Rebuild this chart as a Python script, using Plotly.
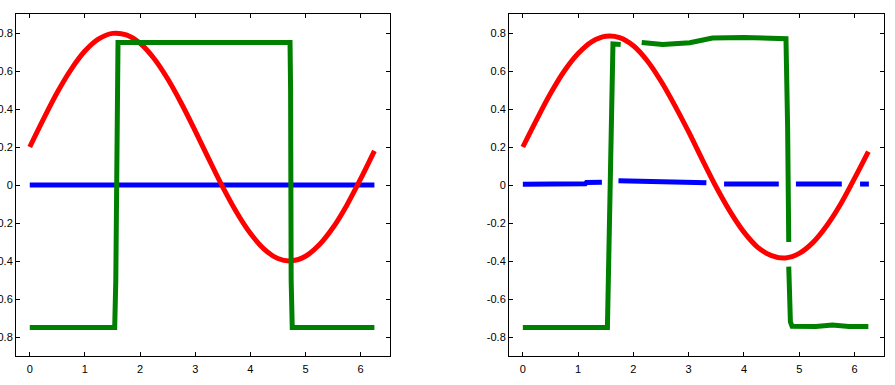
import plotly.graph_objects as go
from plotly.subplots import make_subplots

# ---- data ----
red_x = [0, 0.25, 0.5, 0.75, 1.0, 1.25, 1.5, 1.75, 2.0, 2.25, 2.5, 2.75, 3.0,
         3.25, 3.5, 3.75, 4.0, 4.25, 4.5, 4.75, 5.0, 5.25, 5.5, 5.75, 6.0, 6.25]
red_left = [0.20, 0.348, 0.488, 0.609, 0.705, 0.769, 0.798, 0.790, 0.746, 0.667,
            0.559, 0.429, 0.285, 0.135, -0.011, -0.143, -0.254, -0.337, -0.387,
            -0.399, -0.375, -0.315, -0.224, -0.106, 0.032, 0.180]
red_right = [0.20, 0.344, 0.481, 0.600, 0.692, 0.755, 0.783, 0.776, 0.733, 0.654,
             0.546, 0.418, 0.279, 0.131, -0.012, -0.140, -0.248, -0.328, -0.372,
             -0.384, -0.360, -0.302, -0.213, -0.100, 0.035, 0.176]

blue_left_x = [0, 6.25]
blue_left_y = [0, 0]

green_left_x = [0, 1.54, 1.56, 1.58, 1.60, 4.72, 4.73, 4.74, 4.76, 6.25]
green_left_y = [-0.75, -0.75, -0.5, 0.5, 0.75, 0.75, 0.5, -0.5, -0.75, -0.75]

blue_right_x = [0, 1.13, 1.15, 1.43, None, 1.73, 2.5, 3.19, 3.32, None,
                3.64, 4.63, None, 4.94, 5.77, None, 6.10, 6.26]
blue_right_y = [0.004, 0.006, 0.013, 0.015, None, 0.022, 0.020, 0.018, 0.012, None,
                0.005, 0.005, None, 0.005, 0.005, None, 0.005, 0.005]

green_right_x = [0, 1.53, 1.56, 1.60, 1.63, 1.77, None, 2.15, 2.53, 3.02, 3.43,
                 4.0, 4.5, 4.73, 4.76, 4.79, 4.81, None, 4.81, 4.82, 4.84, 4.87,
                 5.3, 5.6, 5.9, 6.25]
green_right_y = [-0.75, -0.75, -0.3, 0.4, 0.743, 0.74, None, 0.75, 0.739, 0.749,
                 0.774, 0.776, 0.774, 0.772, 0.77, 0.3, -0.3, None, -0.43, -0.6,
                 -0.72, -0.743, -0.745, -0.737, -0.745, -0.745]

x_ticks = [0, 1, 2, 3, 4, 5, 6]
y_ticks = [-0.8, -0.6, -0.4, -0.2, 0, 0.2, 0.4, 0.6, 0.8]
y_labels = ["-0.8", "-0.6", "-0.4", "-0.2", "0", "0.2", "0.4", "0.6", "0.8"]

RED = "#ff0000"
BLUE = "#0000ff"
GREEN = "#008000"
LW = 5

fig = make_subplots(rows=1, cols=2, horizontal_spacing=0.137)

fig.add_trace(go.Scatter(x=blue_left_x, y=blue_left_y, mode="lines",
                         line=dict(color=BLUE, width=LW)), 1, 1)
fig.add_trace(go.Scatter(x=red_x, y=red_left, mode="lines",
                         line=dict(color=RED, width=LW, shape="spline")), 1, 1)
fig.add_trace(go.Scatter(x=green_left_x, y=green_left_y, mode="lines",
                         line=dict(color=GREEN, width=LW)), 1, 1)

fig.add_trace(go.Scatter(x=blue_right_x, y=blue_right_y, mode="lines",
                         line=dict(color=BLUE, width=LW)), 1, 2)
fig.add_trace(go.Scatter(x=red_x, y=red_right, mode="lines",
                         line=dict(color=RED, width=LW, shape="spline")), 1, 2)
fig.add_trace(go.Scatter(x=green_right_x, y=green_right_y, mode="lines",
                         line=dict(color=GREEN, width=LW)), 1, 2)

axis_common = dict(showline=True, linecolor="black", linewidth=1, mirror="ticks",
                   ticks="inside", ticklen=4, tickcolor="black", tickwidth=1,
                   showgrid=False, zeroline=False, automargin=False,
                   tickfont=dict(family="Liberation Sans, Arial, sans-serif",
                                 size=11, color="black"))

xdomains = [[0.0, 0.4309], [0.568, 1.0]]
for i, xa in enumerate(["xaxis", "xaxis2"]):
    fig.layout[xa].update(range=[-0.25, 6.5332], tickvals=x_ticks,
                          ticktext=[str(t) for t in x_ticks],
                          domain=xdomains[i], ticklabelstandoff=3, **axis_common)
for ya in ["yaxis", "yaxis2"]:
    fig.layout[ya].update(range=[-0.9, 0.9], tickvals=y_ticks, ticktext=y_labels,
                          **axis_common)

fig.update_layout(width=895, height=385, showlegend=False,
                  margin=dict(l=16, r=11, t=14, b=29, autoexpand=False),
                  plot_bgcolor="white", paper_bgcolor="white")

fig.write_html("out.html", config={"displayModeBar": False},
               post_script="document.body.style.margin='0';document.body.style.overflow='hidden';")
